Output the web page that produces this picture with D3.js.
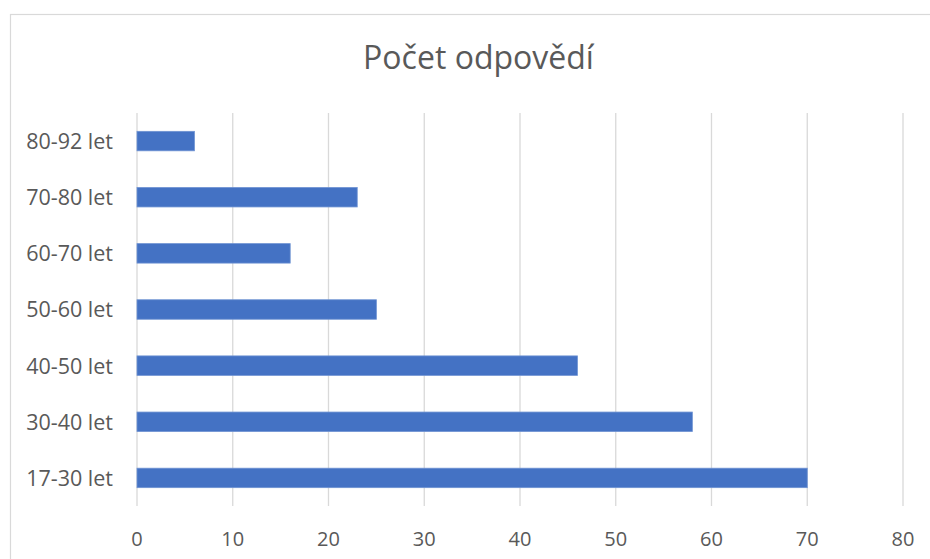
<!DOCTYPE html>
<html><head><meta charset="utf-8">
<script src="https://cdn.jsdelivr.net/npm/d3@7"></script>
<style>body{margin:0;background:#fff}</style>
</head><body>
<svg id="c" width="930" height="559"></svg>
<script>
const categories = ["17-30 let","30-40 let","40-50 let","50-60 let","60-70 let","70-80 let","80-92 let"];
const values = [70, 58, 46, 25, 16, 23, 6];
const ticks = [0,10,20,30,40,50,60,70,80];
const title = "Počet odpovědí";

const svg = d3.select("#c");
const font = "'Open Sans', 'Noto Sans', sans-serif";
svg.append("rect").attr("x",10.5).attr("y",14.5).attr("width",940).attr("height",560)
  .attr("fill","#fff").attr("stroke","#d9d9d9").attr("stroke-width",1.2);

const m = {l:137, r:903, t:113, b:506};
const x = d3.scaleLinear().domain([0,80]).range([m.l,m.r]);
const y = d3.scaleBand().domain(categories.slice().reverse()).range([m.t,m.b]).paddingInner(0.653).paddingOuter(0.3265);

svg.append("g").selectAll("line").data(ticks).join("line")
  .attr("x1",d=>x(d)).attr("x2",d=>x(d)).attr("y1",m.t).attr("y2",m.b)
  .attr("stroke","#d9d9d9").attr("stroke-width",1.3);

svg.append("g").selectAll("rect").data(categories).join("rect")
  .attr("x",x(0)).attr("y",d=>y(d)).attr("height",y.bandwidth())
  .attr("width",(d,i)=>x(values[i])-x(0))
  .attr("fill","#4472c4").attr("stroke","#6f93d3").attr("stroke-width",0.8);

svg.append("g").selectAll("text").data(ticks).join("text")
  .attr("x",d=>x(d)).attr("y",546).attr("text-anchor","middle")
  .attr("font-family",font).attr("font-size",20).attr("fill","#595959").text(d=>d);

svg.append("g").selectAll("text").data(categories).join("text")
  .attr("x",113).attr("y",d=>y(d)+y.bandwidth()/2).attr("dy","0.37em").attr("text-anchor","end")
  .attr("font-family",font).attr("font-size",21.5).attr("fill","#595959").text(d=>d);

svg.append("text").attr("x",478.5).attr("y",69).attr("text-anchor","middle")
  .attr("font-family",font).attr("font-size",32).attr("fill","#595959").text(title);
</script>
</body></html>
